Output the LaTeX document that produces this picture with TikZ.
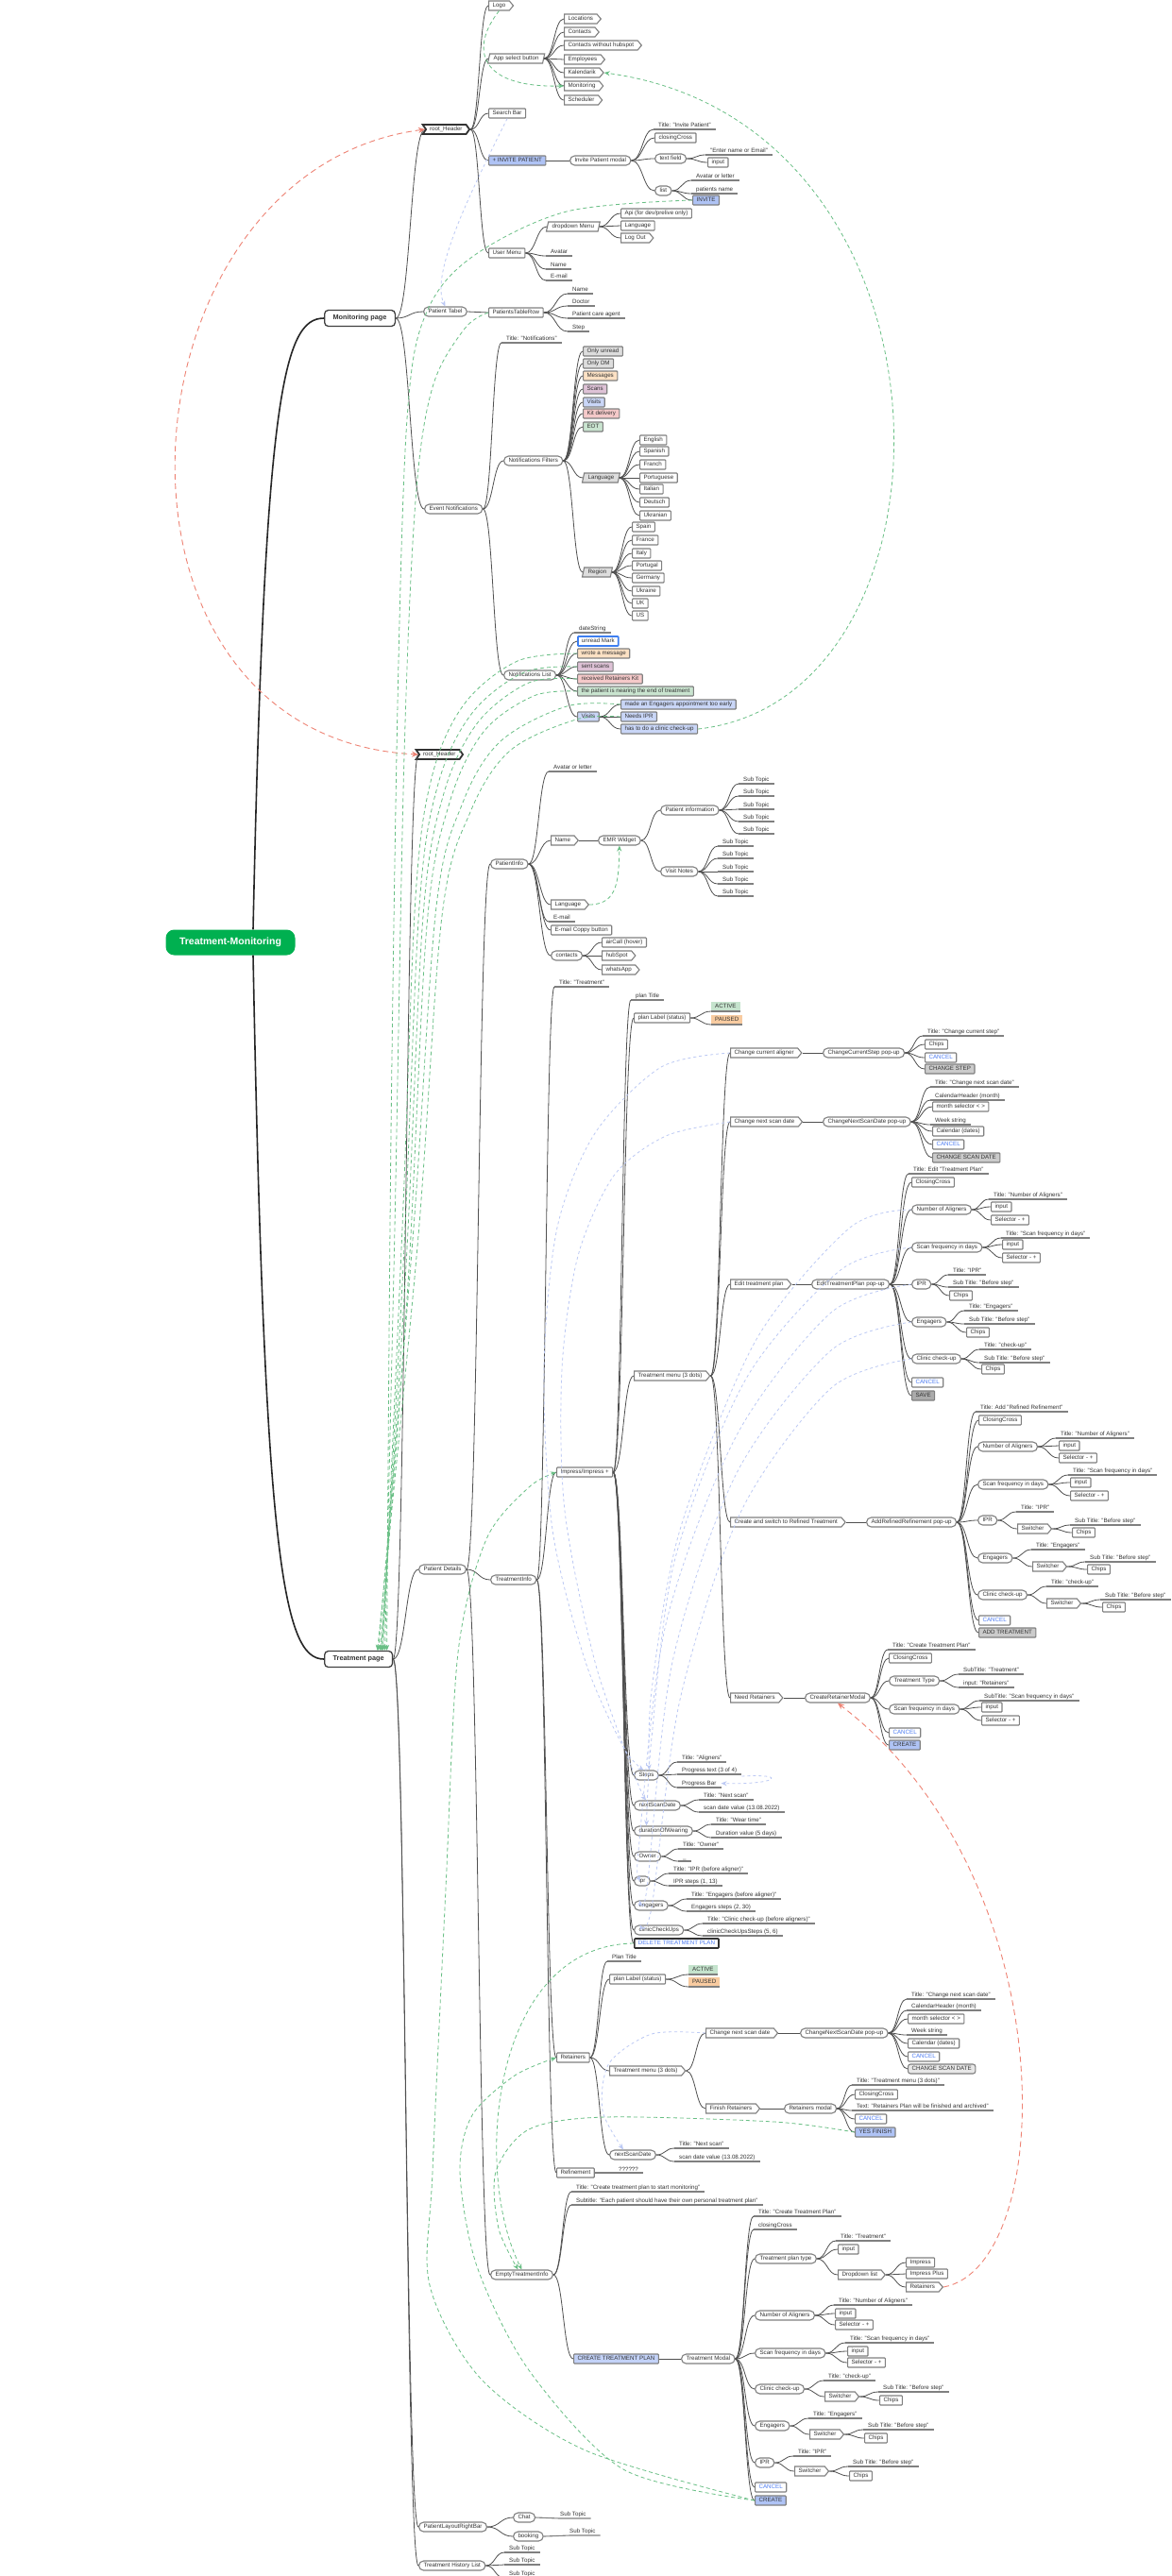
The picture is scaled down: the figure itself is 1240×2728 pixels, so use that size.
\documentclass[tikz,border=0pt]{standalone}
\usepackage{fontspec}
\setmainfont{Liberation Sans}
\usetikzlibrary{shapes.misc,shapes.symbols,shapes.geometric,arrows.meta,calc}
\definecolor{txt}{HTML}{333333}
\definecolor{bdc}{HTML}{808080}
\definecolor{lnc}{HTML}{505050}
\definecolor{cblue}{HTML}{AFC3F5}
\definecolor{clb}{HTML}{C9D6F7}
\definecolor{cgray}{HTML}{DDDDDD}
\definecolor{cpeach}{HTML}{FCE1C4}
\definecolor{cmauve}{HTML}{DEC2D6}
\definecolor{cpink}{HTML}{F5C9C9}
\definecolor{cgreen}{HTML}{C9E4CF}
\definecolor{cbtn}{HTML}{CBCBCB}
\definecolor{csave}{HTML}{ABABAB}
\definecolor{cact}{HTML}{C5E3CD}
\definecolor{cpaus}{HTML}{F8CBA0}
\definecolor{ccan}{HTML}{4C7BF2}
\definecolor{rootg}{HTML}{00B050}
\definecolor{gdc}{HTML}{69BF85}
\definecolor{rdc}{HTML}{EE8374}
\definecolor{bdash}{HTML}{BCC9F4}
\definecolor{umark}{HTML}{3D7EF0}
\newcommand\fs{\fontsize{6.2}{7}\selectfont}
\newcommand\cnx[2]{\coordinate (tmpm) at ($(#1.east)!.5!(#2)$);\draw[ln] (#1.east) .. controls (tmpm |- #1.east) and (tmpm |- #2) .. (#2);}
\newcommand\ulnode[5][]{\node[ul,#1] (#2) at (#3,#4) {#5};\draw[uln] (#2.south west) -- (#2.south east);}
\begin{document}
\begin{tikzpicture}[x=1pt,y=-1pt,
 every node/.style={font=\fs,text=txt},
 bx/.style={anchor=west,draw=bdc,line width=1.1pt,fill=white,inner xsep=4pt,inner ysep=0pt,minimum height=10pt,text height=4.6pt,text depth=1.3pt},
 rb/.style={bx,rectangle,rounded corners=0.8pt},
 pl/.style={bx,rounded rectangle},
 tg/.style={bx,signal,signal to=east,signal pointer angle=100},
 pg/.style={bx,trapezium,trapezium left angle=70,trapezium right angle=110,trapezium stretches=true},
 hdr/.style={bx,signal,signal from=west,signal to=east,signal pointer angle=110,draw=black!80,line width=1.8pt},
 ul/.style={anchor=south west,inner xsep=5pt,inner ysep=1.3pt,text height=4.6pt,text depth=1.3pt},
 fl/.style={ul,inner xsep=4pt,inner ysep=2pt},
 uln/.style={draw=bdc,line width=1.1pt},
 ln/.style={draw=lnc,line width=0.8pt},
 mainln/.style={draw=black!85,line width=1.6pt},
 cancel/.style={text=ccan},
 delb/.style={rb,draw=black!80,line width=1.6pt,text=ccan},
 umk/.style={rb,draw=umark,line width=1.8pt},
 pb/.style={anchor=west,draw=black!75,line width=1.3pt,fill=white,rounded corners=4pt,font=\fontsize{7.3}{8}\selectfont\bfseries,minimum height=17pt,inner xsep=9pt},
 rootn/.style={fill=rootg,text=white,font=\fontsize{10.5}{12}\selectfont\bfseries,rounded corners=9pt,minimum width=137pt,minimum height=27pt},
 gd/.style={draw=gdc,line width=0.8pt,dash pattern=on 4pt off 3pt,-{Stealth[length=6pt,width=5pt]}},
 bdl/.style={draw=bdash,line width=0.8pt,dash pattern=on 3pt off 3pt,-{Stealth[length=6pt,width=5pt]}},
 rd/.style={draw=rdc,line width=0.9pt,dash pattern=on 6pt off 4pt}]
\useasboundingbox (0,0) rectangle (1240,2728);
\fill[white] (0,0) rectangle (1240,2728);
% ---------------- root
\node[rootn] (root) at (244,998) {Treatment-Monitoring};
\node[pb] (mon) at (343,337) {Monitoring page};
\node[pb] (trt) at (343,1757) {Treatment page};
\draw[mainln] ([xshift=24pt]root.north) .. controls (280,420) and (300,337) .. (mon.west);
\draw[mainln] ([xshift=24pt]root.south) .. controls (280,1650) and (300,1757) .. (trt.west);
% ---------------- monitoring: header
\node[hdr] (h1) at (450,137) {root\_Header};
\node[tg] (logo) at (517,6) {Logo};
\node[pg] (appsel) at (517,62) {App select button};
\node[rb] (search) at (517,120) {Search Bar};
\node[rb,fill=cblue] (invp) at (517,170) {+ INVITE PATIENT};
\node[rb] (umenu) at (517,268) {User Menu};
\cnx{mon}{h1.west}
\cnx{h1}{logo.west}\cnx{h1}{appsel.west}\cnx{h1}{search.west}\cnx{h1}{invp.west}\cnx{h1}{umenu.west}
\node[tg] (a1) at (597,20) {Locations};
\node[tg] (a2) at (597,34) {Contacts};
\node[tg] (a3) at (597,48) {Contacts without hubspot};
\node[tg] (a4) at (597,63) {Employees};
\node[tg] (a5) at (597,77) {Kalendarik};
\node[tg] (a6) at (597,91) {Monitoring};
\node[tg] (a7) at (597,106) {Scheduler};
\foreach \i in {1,...,7}{\cnx{appsel}{a\i.west}}
\node[pl] (ipm) at (603,170) {Invite Patient modal};
\cnx{invp}{ipm.west}
\ulnode{ipt}{692}{137}{Title: "Invite Patient"}
\node[rb] (icc) at (693,146) {closingCross};
\node[pl] (itf) at (693,168) {text field};
\node[pl] (ilist) at (693,202) {list};
\cnx{ipm}{ipt.south west}\cnx{ipm}{icc.west}\cnx{ipm}{itf.west}\cnx{ipm}{ilist.west}
\ulnode{ien}{747}{164}{"Enter name or Email"}
\node[rb] (iin) at (749,172) {input};
\cnx{itf}{ien.south west}\cnx{itf}{iin.west}
\ulnode{iav}{732}{191}{Avatar or letter}
\ulnode{ipn}{732}{205}{patients name}
\node[rb,fill=cblue] (iinv) at (733,212) {INVITE};
\cnx{ilist}{iav.south west}\cnx{ilist}{ipn.south west}\cnx{ilist}{iinv.west}
\node[pg] (ddm) at (579,240) {dropdown Menu};
\node[rb] (api) at (657,226) {Api (for dev/prelive only)};
\node[rb] (ulang) at (657,239) {Language};
\node[tg] (ulog) at (657,252) {Log Out};
\ulnode{uav}{578}{271}{Avatar}
\ulnode{unm}{578}{285}{Name}
\ulnode{uem}{578}{297}{E-mail}
\cnx{umenu}{ddm.west}\cnx{umenu}{uav.south west}\cnx{umenu}{unm.south west}\cnx{umenu}{uem.south west}
\cnx{ddm}{api.west}\cnx{ddm}{ulang.west}\cnx{ddm}{ulog.west}
% ---------------- monitoring: patient table
\node[pl] (ptab) at (448,330) {Patient Tabel};
\node[rb] (ptr) at (517,331) {PatientsTableRow};
\cnx{mon}{ptab.west}\cnx{ptab}{ptr.west}
\ulnode{pr1}{601}{311}{Name}
\ulnode{pr2}{601}{324}{Doctor}
\ulnode{pr3}{601}{337}{Patient care agent}
\ulnode{pr4}{601}{351}{Step}
\foreach \i in {1,...,4}{\cnx{ptr}{pr\i.south west}}
% ---------------- monitoring: event notifications
\node[pl] (evn) at (449,539) {Event Notifications};
\cnx{mon}{evn.west}
\ulnode{ent}{531}{363}{Title: "Notifications"}
\node[pl] (nfil) at (533,488) {Notifications Filters};
\node[pl] (nlst) at (533,715) {Notifications List};
\cnx{evn}{ent.south west}\cnx{evn}{nfil.west}\cnx{evn}{nlst.west}
\node[rb,fill=cgray] (f1) at (617,372) {Only unread};
\node[rb,fill=cgray] (f2) at (617,385) {Only DM};
\node[rb,fill=cpeach] (f3) at (617,398) {Messages};
\node[rb,fill=cmauve] (f4) at (617,412) {Scans};
\node[rb,fill=clb] (f5) at (617,426) {Visits};
\node[rb,fill=cpink] (f6) at (617,438) {Kit delivery};
\node[rb,fill=cgreen] (f7) at (617,452) {EOT};
\node[pg,fill=cgray] (f8) at (617,506) {Language};
\node[pg,fill=cgray] (f9) at (617,606) {Region};
\foreach \i in {1,...,9}{\cnx{nfil}{f\i.west}}
\foreach \t/\y [count=\i] in {English/466,Spanish/478,Franch/492,Portuguese/506,Italian/518,Deutsch/532,Ukranian/546}{\node[rb] (l\i) at (677,\y) {\t};\cnx{f8}{l\i.west}}
\foreach \t/\y [count=\i] in {Spain/558,France/572,Italy/586,Portugal/599,Germany/612,Ukraine/626,UK/639,US/652}{\node[rb] (r\i) at (669,\y) {\t};\cnx{f9}{r\i.west}}
\ulnode{nds}{608}{670}{dateString}
\node[umk] (nun) at (611,679) {unread Mark};
\node[rb,fill=cpeach] (wrote) at (611,692) {wrote a message};
\node[rb,fill=cmauve] (sent) at (611,706) {sent scans};
\node[rb,fill=cpink] (recv) at (611,719) {received Retainers Kit};
\node[rb,fill=cgreen] (near) at (611,732) {the patient is nearing the end of treatment};
\node[rb,fill=clb] (nvis) at (611,759) {Visits};
\cnx{nlst}{nds.south west}\cnx{nlst}{nun.west}\cnx{nlst}{wrote.west}\cnx{nlst}{sent.west}\cnx{nlst}{recv.west}\cnx{nlst}{near.west}\cnx{nlst}{nvis.west}
\node[rb,fill=clb] (veng) at (657,746) {made an Engagers appointment too early};
\node[rb,fill=clb] (vipr) at (657,759) {Needs IPR};
\node[rb,fill=clb] (vcli) at (657,772) {has to do a clinic check-up};
\cnx{nvis}{veng.west}\cnx{nvis}{vipr.west}\cnx{nvis}{vcli.west}
% ---------------- treatment page
\node[hdr] (h2) at (443,799) {root\_Header};
\node[pl] (pdet) at (443,1662) {Patient Details};
\node[pl] (plrb) at (443,2676) {PatientLayoutRightBar};
\node[pl] (thl) at (443,2717) {Treatment History List};
\cnx{trt}{h2.west}\cnx{trt}{pdet.west}\cnx{trt}{plrb.west}\cnx{trt}{thl.west}
\node[pl] (pinfo) at (519,915) {PatientInfo};
\node[pl] (tinfo) at (519,1673) {TreatmentInfo};
\node[pl] (empty) at (519,2409) {EmptyTreatmentInfo};
\cnx{pdet}{pinfo.west}\cnx{pdet}{tinfo.west}\cnx{pdet}{empty.west}
% patient info
\ulnode{piav}{581}{817}{Avatar or letter}
\node[tg] (piname) at (583,890) {Name};
\node[pl] (emr) at (633,890) {EMR Widget};
\node[pl] (pinf) at (699,858) {Patient information};
\node[pl] (vnot) at (699,923) {Visit Notes};
\node[tg] (pilang) at (583,958) {Language};
\ulnode{piem}{581}{976}{E-mail}
\node[rb] (picp) at (583,985) {E-mail Coppy button};
\node[pl] (picon) at (583,1012) {contacts};
\cnx{pinfo}{piav.south west}\cnx{pinfo}{piname.west}\cnx{pinfo}{pilang.west}\cnx{pinfo}{piem.south west}\cnx{pinfo}{picp.west}\cnx{pinfo}{picon.west}
\cnx{piname}{emr.west}\cnx{emr}{pinf.west}\cnx{emr}{vnot.west}
\foreach \y [count=\i] in {830,843,857,870,883}{\ulnode{ps\i}{782}{\y}{Sub Topic}\cnx{pinf}{ps\i.south west}}
\foreach \y [count=\i] in {896,909,923,936,949}{\ulnode{vs\i}{760}{\y}{Sub Topic}\cnx{vnot}{vs\i.south west}}
\node[rb] (pac) at (637,998) {airCall (hover)};
\node[tg] (phs) at (637,1012) {hubSpot};
\node[tg] (pwa) at (637,1027) {whatsApp};
\cnx{picon}{pac.west}\cnx{picon}{phs.west}\cnx{picon}{pwa.west}
% treatment info
\ulnode{tit}{587}{1045}{Title: "Treatment"}
\node[rb] (imp) at (589,1559) {Impress/Impress +};
\node[rb] (ret) at (589,2179) {Retainers};
\node[rb] (refn) at (589,2301) {Refinement};
\cnx{tinfo}{tit.south west}\cnx{tinfo}{imp.west}\cnx{tinfo}{ret.west}\cnx{tinfo}{refn.west}
\node[anchor=south west,inner xsep=0pt,inner ysep=1.3pt] (refq) at (655,2301) {??????};
\draw[uln] (refn.east) -- (refq.south west) -- ([xshift=5pt]refq.south east);
% impress
\ulnode{ipt1}{668}{1059}{plan Title}
\node[rb] (ipl) at (671,1078) {plan Label (status)};
\ulnode[fl,fill=cact]{iact}{753}{1071}{ACTIVE}
\ulnode[fl,fill=cpaus]{ipau}{753}{1085}{PAUSED}
\cnx{ipl}{iact.south west}\cnx{ipl}{ipau.south west}
\node[tg] (tmen) at (671,1457) {Treatment menu (3 dots)};
\node[pl] (steps) at (671,1880) {Steps};
\node[pl] (nsd) at (671,1912) {nextScanDate};
\node[pl] (dow) at (671,1939) {durationOfWearing};
\node[pl] (own) at (671,1966) {Owner};
\node[pl] (ipr) at (671,1992) {ipr};
\node[pl] (engg) at (671,2018) {engagers};
\node[pl] (ccu) at (671,2044) {clinicCheckUps};
\node[delb] (del) at (671,2058) {DELETE TREATMENT PLAN};
\foreach \n in {ipt1.south west,ipl.west,tmen.west,steps.west,nsd.west,dow.west,own.west,ipr.west,engg.west,ccu.west,del.west}{\cnx{imp}{\n}}
\ulnode{st1}{717}{1866}{Title: "Aligners"}
\ulnode{st2}{717}{1879}{Progress text (3 of 4)}
\ulnode{st3}{717}{1893}{Progress Bar}
\cnx{steps}{st1.south west}\cnx{steps}{st2.south west}\cnx{steps}{st3.south west}
\ulnode{ns1}{740}{1906}{Title: "Next scan"}
\ulnode{ns2}{740}{1919}{scan date value (13.08.2022)}
\cnx{nsd}{ns1.south west}\cnx{nsd}{ns2.south west}
\ulnode{dw1}{753}{1932}{Title: "Wear time"}
\ulnode{dw2}{753}{1946}{Duration value (5 days)}
\cnx{dow}{dw1.south west}\cnx{dow}{dw2.south west}
\ulnode{ow1}{718}{1958}{Title: "Owner"}
\ulnode{ow2}{718}{1971}{\_}
\cnx{own}{ow1.south west}\cnx{own}{ow2.south west}
\ulnode{ip1}{708}{1984}{Title: "IPR (before aligner)"}
\ulnode{ip2}{708}{1997}{IPR steps (1, 13)}
\cnx{ipr}{ip1.south west}\cnx{ipr}{ip2.south west}
\ulnode{en1}{727}{2011}{Title: "Engagers (before aligner)"}
\ulnode{en2}{727}{2024}{Engagers steps (2, 30)}
\cnx{engg}{en1.south west}\cnx{engg}{en2.south west}
\ulnode{cu1}{744}{2037}{Title: "Clinic check-up (before aligners)"}
\ulnode{cu2}{744}{2050}{clinicCheckUpsSteps (5, 6)}
\cnx{ccu}{cu1.south west}\cnx{ccu}{cu2.south west}
% treatment menu
\node[tg] (cca) at (773,1115) {Change current aligner};
\node[tg] (cns) at (773,1188) {Change next scan date};
\node[tg] (etp) at (773,1360) {Edit treatment plan};
\node[tg] (csr) at (773,1612) {Create and switch to Refined Treatment};
\node[tg] (nret) at (773,1798) {Need Retainers};
\cnx{tmen}{cca.west}\cnx{tmen}{cns.west}\cnx{tmen}{etp.west}\cnx{tmen}{csr.west}\cnx{tmen}{nret.west}
% change current step
\node[pl] (ccs) at (871,1115) {ChangeCurrentStep pop-up};
\cnx{cca}{ccs.west}
\ulnode{cc1}{977}{1097}{Title: "Change current step"}
\node[rb] (cc2) at (979,1106) {Chips};
\node[rb,cancel] (cc3) at (979,1120) {CANCEL};
\node[rb,fill=cbtn] (cc4) at (979,1132) {CHANGE STEP};
\cnx{ccs}{cc1.south west}\cnx{ccs}{cc2.west}\cnx{ccs}{cc3.west}\cnx{ccs}{cc4.west}
% change next scan date
\node[pl] (cnp) at (871,1188) {ChangeNextScanDate pop-up};
\cnx{cns}{cnp.west}
\ulnode{cn1}{985}{1151}{Title: "Change next scan date"}
\ulnode{cn2}{985}{1165}{CalendarHeader (month)}
\node[rb] (cn3) at (987,1172) {month selector < >};
\ulnode{cn4}{985}{1191}{Week string}
\node[rb] (cn5) at (987,1198) {Calendar (dates)};
\node[rb,cancel] (cn6) at (987,1212) {CANCEL};
\node[rb,fill=cbtn] (cn7) at (987,1226) {CHANGE SCAN DATE};
\cnx{cnp}{cn1.south west}\cnx{cnp}{cn2.south west}\cnx{cnp}{cn3.west}\cnx{cnp}{cn4.south west}\cnx{cnp}{cn5.west}\cnx{cnp}{cn6.west}\cnx{cnp}{cn7.west}
% edit treatment plan
\node[pl] (etpp) at (859,1360) {EditTreatmentPlan pop-up};
\cnx{etp}{etpp.west}
\ulnode{e1}{962}{1243}{Title: Edit "Treatment Plan"}
\node[rb] (e2) at (965,1252) {ClosingCross};
\node[pl] (enal) at (965,1281) {Number of Aligners};
\node[pl] (esf) at (965,1321) {Scan frequency in days};
\node[pl] (eipr) at (965,1360) {IPR};
\node[pl] (eeng) at (965,1400) {Engagers};
\node[pl] (ecli) at (965,1439) {Clinic check-up};
\node[rb,cancel] (ecan) at (965,1464) {CANCEL};
\node[rb,fill=csave] (esav) at (965,1478) {SAVE};
\foreach \n in {e1.south west,e2.west,enal.west,esf.west,eipr.west,eeng.west,ecli.west,ecan.west,esav.west}{\cnx{etpp}{\n}}
\ulnode{ena1}{1047}{1270}{Title: "Number of Aligners"}
\node[rb] (ena2) at (1049,1278) {input};
\node[rb] (ena3) at (1049,1292) {Selector - +};
\cnx{enal}{ena1.south west}\cnx{enal}{ena2.west}\cnx{enal}{ena3.west}
\ulnode{esf1}{1060}{1311}{Title: "Scan frequency in days"}
\node[rb] (esf2) at (1061,1318) {input};
\node[rb] (esf3) at (1061,1332) {Selector - +};
\cnx{esf}{esf1.south west}\cnx{esf}{esf2.west}\cnx{esf}{esf3.west}
\ulnode{eip1}{1004}{1350}{Title: "IPR"}
\ulnode{eip2}{1004}{1363}{Sub Title: "Before step"}
\node[rb] (eip3) at (1005,1372) {Chips};
\cnx{eipr}{eip1.south west}\cnx{eipr}{eip2.south west}\cnx{eipr}{eip3.west}
\ulnode{een1}{1021}{1388}{Title: "Engagers"}
\ulnode{een2}{1021}{1402}{Sub Title: "Before step"}
\node[rb] (een3) at (1023,1411) {Chips};
\cnx{eeng}{een1.south west}\cnx{eeng}{een2.south west}\cnx{eeng}{een3.west}
\ulnode{ecl1}{1037}{1429}{Title: "check-up"}
\ulnode{ecl2}{1037}{1443}{Sub Title: "Before step"}
\node[rb] (ecl3) at (1039,1450) {Chips};
\cnx{ecli}{ecl1.south west}\cnx{ecli}{ecl2.south west}\cnx{ecli}{ecl3.west}
% add refined
\node[pl] (arp) at (917,1612) {AddRefinedRefinement pop-up};
\cnx{csr}{arp.west}
\ulnode{a01}{1033}{1495}{Title: Add "Refined Refinement"}
\node[rb] (a02) at (1036,1504) {ClosingCross};
\node[pl] (anal) at (1035,1532) {Number of Aligners};
\node[pl] (asf) at (1035,1572) {Scan frequency in days};
\node[pl] (aipr) at (1035,1610) {IPR};
\node[pl] (aeng) at (1035,1650) {Engagers};
\node[pl] (acli) at (1035,1689) {Clinic check-up};
\node[rb,cancel] (acan) at (1036,1716) {CANCEL};
\node[rb,fill=cbtn] (aadd) at (1036,1729) {ADD TREATMENT};
\foreach \n in {a01.south west,a02.west,anal.west,asf.west,aipr.west,aeng.west,acli.west,acan.west,aadd.west}{\cnx{arp}{\n}}
\ulnode{ana1}{1118}{1523}{Title: "Number of Aligners"}
\node[rb] (ana2) at (1121,1531) {input};
\node[rb] (ana3) at (1121,1544) {Selector - +};
\cnx{anal}{ana1.south west}\cnx{anal}{ana2.west}\cnx{anal}{ana3.west}
\ulnode{asf1}{1131}{1562}{Title: "Scan frequency in days"}
\node[rb] (asf2) at (1133,1570) {input};
\node[rb] (asf3) at (1133,1584) {Selector - +};
\cnx{asf}{asf1.south west}\cnx{asf}{asf2.west}\cnx{asf}{asf3.west}
\ulnode{aip1}{1076}{1601}{Title: "IPR"}
\node[tg] (aipsw) at (1077,1619) {Switcher};
\cnx{aipr}{aip1.south west}\cnx{aipr}{aipsw.west}
\ulnode{aip2}{1133}{1615}{Sub Title: "Before step"}
\node[rb] (aip3) at (1135,1623) {Chips};
\cnx{aipsw}{aip2.south west}\cnx{aipsw}{aip3.west}
\ulnode{aen1}{1092}{1641}{Title: "Engagers"}
\node[tg] (aensw) at (1093,1659) {Switcher};
\cnx{aeng}{aen1.south west}\cnx{aeng}{aensw.west}
\ulnode{aen2}{1149}{1654}{Sub Title: "Before step"}
\node[rb] (aen3) at (1151,1662) {Chips};
\cnx{aensw}{aen2.south west}\cnx{aensw}{aen3.west}
\ulnode{acl1}{1108}{1680}{Title: "check-up"}
\node[tg] (aclsw) at (1108,1698) {Switcher};
\cnx{acli}{acl1.south west}\cnx{acli}{aclsw.west}
\ulnode{acl2}{1165}{1694}{Sub Title: "Before step"}
\node[rb] (acl3) at (1167,1702) {Chips};
\cnx{aclsw}{acl2.south west}\cnx{aclsw}{acl3.west}
% need retainers
\node[pl] (crm) at (852,1798) {CreateRetainerModal};
\cnx{nret}{crm.west}
\ulnode{cr1}{940}{1747}{Title: "Create Treatment Plan"}
\node[rb] (cr2) at (941,1756) {ClosingCross};
\node[pl] (crtt) at (941,1780) {Treatment Type};
\node[pl] (crsf) at (941,1810) {Scan frequency in days};
\node[rb,cancel] (crc) at (941,1835) {CANCEL};
\node[rb,fill=cblue] (crok) at (941,1848) {CREATE};
\foreach \n in {cr1.south west,cr2.west,crtt.west,crsf.west,crc.west,crok.west}{\cnx{crm}{\n}}
\ulnode{ct1}{1015}{1773}{SubTitle: "Treatment"}
\ulnode{ct2}{1015}{1787}{input: "Retainers"}
\cnx{crtt}{ct1.south west}\cnx{crtt}{ct2.south west}
\ulnode{cs1}{1037}{1801}{SubTitle: "Scan frequency in days"}
\node[rb] (cs2) at (1039,1808) {input};
\node[rb] (cs3) at (1039,1822) {Selector - +};
\cnx{crsf}{cs1.south west}\cnx{crsf}{cs2.west}\cnx{crsf}{cs3.west}
% retainers
\ulnode{rt1}{643}{2077}{Plan Title}
\node[rb] (rpl) at (645,2096) {plan Label (status)};
\ulnode[fl,fill=cact]{ract}{729}{2091}{ACTIVE}
\ulnode[fl,fill=cpaus]{rpau}{729}{2104}{PAUSED}
\cnx{rpl}{ract.south west}\cnx{rpl}{rpau.south west}
\node[tg] (rtm) at (645,2193) {Treatment menu (3 dots)};
\node[pl] (rnsd) at (645,2282) {nextScanDate};
\cnx{ret}{rt1.south west}\cnx{ret}{rpl.west}\cnx{ret}{rtm.west}\cnx{ret}{rnsd.west}
\ulnode{rn1}{714}{2275}{Title: "Next scan"}
\ulnode{rn2}{714}{2289}{scan date value (13.08.2022)}
\cnx{rnsd}{rn1.south west}\cnx{rnsd}{rn2.south west}
\node[tg] (rcns) at (747,2153) {Change next scan date};
\node[tg] (rfin) at (747,2233) {Finish Retainers};
\cnx{rtm}{rcns.west}\cnx{rtm}{rfin.west}
\node[pl] (rcnp) at (847,2153) {ChangeNextScanDate pop-up};
\cnx{rcns}{rcnp.west}
\ulnode{rc1}{960}{2117}{Title: "Change next scan date"}
\ulnode{rc2}{960}{2129}{CalendarHeader (month)}
\node[rb] (rc3) at (961,2138) {month selector < >};
\ulnode{rc4}{960}{2155}{Week string}
\node[rb] (rc5) at (961,2164) {Calendar (dates)};
\node[rb,cancel] (rc6) at (961,2178) {CANCEL};
\node[rb,fill=cgray!70,rounded corners=2.5pt] (rc7) at (961,2191) {CHANGE SCAN DATE};
\cnx{rcnp}{rc1.south west}\cnx{rcnp}{rc2.south west}\cnx{rcnp}{rc3.west}\cnx{rcnp}{rc4.south west}\cnx{rcnp}{rc5.west}\cnx{rcnp}{rc6.west}\cnx{rcnp}{rc7.west}
\node[pl] (rmod) at (830,2233) {Retainers modal};
\cnx{rfin}{rmod.west}
\ulnode{rm1}{902}{2208}{Title: "Treatment menu (3 dots)"}
\node[rb] (rm2) at (905,2218) {ClosingCross};
\ulnode{rm3}{902}{2235}{Text: "Retainers Plan will be finished and archived"}
\node[rb,cancel] (rm4) at (905,2244) {CANCEL};
\node[rb,fill=cblue] (rm5) at (905,2258) {YES FINISH};
\cnx{rmod}{rm1.south west}\cnx{rmod}{rm2.west}\cnx{rmod}{rm3.south west}\cnx{rmod}{rm4.west}\cnx{rmod}{rm5.west}
% empty treatment info
\ulnode{et1}{605}{2321}{Title: "Create treatment plan to start monitoring"}
\ulnode{et2}{605}{2335}{Subtitle: "Each patient should have their own personal treatment plan"}
\node[rb,fill=cblue!75] (ctp) at (607,2498) {CREATE TREATMENT PLAN};
\cnx{empty}{et1.south west}\cnx{empty}{et2.south west}\cnx{empty}{ctp.west}
\node[pl] (tmod) at (721,2498) {Treatment Modal};
\cnx{ctp}{tmod.west}
\ulnode{tm1}{798}{2347}{Title: "Create Treatment Plan"}
\ulnode{tm2}{798}{2361}{closingCross}
\node[pl] (tmt) at (799,2392) {Treatment plan type};
\node[pl] (tmn) at (799,2452) {Number of Aligners};
\node[pl] (tms) at (799,2492) {Scan frequency in days};
\node[pl] (tmc) at (799,2530) {Clinic check-up};
\node[pl] (tme) at (799,2569) {Engagers};
\node[pl] (tmi) at (799,2608) {IPR};
\node[rb,cancel] (tmcan) at (799,2634) {CANCEL};
\node[rb,fill=cblue] (tmok) at (799,2648) {CREATE};
\foreach \n in {tm1.south west,tm2.south west,tmt.west,tmn.west,tms.west,tmc.west,tme.west,tmi.west,tmcan.west,tmok.west}{\cnx{tmod}{\n}}
\ulnode{tt1}{885}{2373}{Title: "Treatment"}
\node[rb] (tt2) at (887,2382) {input};
\node[tg] (tdd) at (887,2409) {Dropdown list};
\cnx{tmt}{tt1.south west}\cnx{tmt}{tt2.west}\cnx{tmt}{tdd.west}
\node[rb] (td1) at (959,2396) {Impress};
\node[rb] (td2) at (959,2408) {Impress Plus};
\node[tg] (td3) at (959,2422) {Retainers};
\cnx{tdd}{td1.west}\cnx{tdd}{td2.west}\cnx{tdd}{td3.west}
\ulnode{tn1}{883}{2441}{Title: "Number of Aligners"}
\node[rb] (tn2) at (884,2450) {input};
\node[rb] (tn3) at (884,2462) {Selector - +};
\cnx{tmn}{tn1.south west}\cnx{tmn}{tn2.west}\cnx{tmn}{tn3.west}
\ulnode{ts1}{895}{2481}{Title: "Scan frequency in days"}
\node[rb] (ts2) at (897,2490) {input};
\node[rb] (ts3) at (897,2502) {Selector - +};
\cnx{tms}{ts1.south west}\cnx{tms}{ts2.west}\cnx{tms}{ts3.west}
\ulnode{tc1}{872}{2521}{Title: "check-up"}
\node[tg] (tcsw) at (873,2538) {Switcher};
\cnx{tmc}{tc1.south west}\cnx{tmc}{tcsw.west}
\ulnode{tc2}{930}{2533}{Sub Title: "Before step"}
\node[rb] (tc3) at (931,2542) {Chips};
\cnx{tcsw}{tc2.south west}\cnx{tcsw}{tc3.west}
\ulnode{te1}{856}{2561}{Title: "Engagers"}
\node[tg] (tesw) at (857,2578) {Switcher};
\cnx{tme}{te1.south west}\cnx{tme}{tesw.west}
\ulnode{te2}{914}{2573}{Sub Title: "Before step"}
\node[rb] (te3) at (915,2582) {Chips};
\cnx{tesw}{te2.south west}\cnx{tesw}{te3.west}
\ulnode{ti1}{840}{2601}{Title: "IPR"}
\node[tg] (tisw) at (841,2617) {Switcher};
\cnx{tmi}{ti1.south west}\cnx{tmi}{tisw.west}
\ulnode{ti2}{898}{2612}{Sub Title: "Before step"}
\node[rb] (ti3) at (899,2622) {Chips};
\cnx{tisw}{ti2.south west}\cnx{tisw}{ti3.west}
% right bar / history
\node[pl] (chat) at (543,2666) {Chat};
\node[pl] (book) at (543,2686) {booking};
\cnx{plrb}{chat.west}\cnx{plrb}{book.west}
\node[anchor=south west,inner xsep=0pt,inner ysep=1.3pt] (chs) at (593,2667) {Sub Topic};
\draw[uln] (chat.east) -- (chs.south west) -- ([xshift=5pt]chs.south east);
\node[anchor=south west,inner xsep=0pt,inner ysep=1.3pt] (bks) at (603,2685) {Sub Topic};
\draw[uln] (book.east) -- (bks.south west) -- ([xshift=5pt]bks.south east);
\foreach \y [count=\i] in {2703,2716,2730}{\ulnode{hs\i}{534}{\y}{Sub Topic}\cnx{thl}{hs\i.south west}}
% ---------------- dashed relations
\draw[rd,{Stealth[length=7pt,width=6pt]}-{Stealth[length=7pt,width=6pt]}] (h1.west) .. controls (120,180) and (80,780) .. (h2.west);
\draw[rd,-{Stealth[length=7pt,width=6pt]}] (td3.east) .. controls (1120,2400) and (1130,1990) .. (crm.south);
\draw[gd] (logo.south) .. controls (498,50) and (505,93) .. (a6.west);
\draw[gd] (vcli.east) .. controls (1030,740) and (1030,130) .. (a5.east);
\draw[gd] (pilang.east) .. controls (655,958) and (655,930) .. (emr.south);
\draw[gd] plot[smooth,tension=.55] coordinates {(iinv.west) (600,224) (500,272) (452,330) (432,430) (422,700) (414,1200) ([xshift=30pt]trt.north)};
\draw[gd] plot[smooth,tension=.55] coordinates {(ptr.west) (492,348) (458,410) (440,530) (428,800) (418,1300) ([xshift=28pt]trt.north)};
\draw[gd] plot[smooth,tension=.55] coordinates {(wrote.west) (548,700) (492,745) (458,820) (440,950) (426,1300) ([xshift=26pt]trt.north)};
\draw[gd] plot[smooth,tension=.55] coordinates {(sent.west) (555,712) (500,755) (464,830) (444,960) (428,1320) ([xshift=25pt]trt.north)};
\draw[gd] plot[smooth,tension=.55] coordinates {(recv.west) (560,723) (506,765) (470,840) (448,970) (430,1340) ([xshift=24pt]trt.north)};
\draw[gd] plot[smooth,tension=.55] coordinates {(near.west) (565,737) (512,775) (476,850) (452,980) (432,1360) ([xshift=23pt]trt.north)};
\draw[gd] plot[smooth,tension=.55] coordinates {(veng.west) (600,748) (530,785) (490,850) (462,960) (438,1300) ([xshift=21pt]trt.north)};
\draw[gd] plot[smooth,tension=.55] coordinates {(vipr.west) (610,762) (540,795) (498,860) (468,970) (442,1320) ([xshift=20pt]trt.north)};
\draw[gd] plot[smooth,tension=.5] coordinates {(tmok.west) (620,2595) (510,2520) (455,2420) (458,2300) (472,2000) (485,1750) (515,1630) (560,1575) (imp.west)};
\draw[gd] plot[smooth,tension=.5] coordinates {(tmok.west) (660,2615) (560,2510) (505,2400) (487,2300) (500,2240) (545,2198) (ret.west)};
\draw[gd] (del.west) .. controls (520,2060) and (500,2300) .. (empty.north);
\draw[gd] plot[smooth,tension=.5] coordinates {(rm5.west) (820,2247) (640,2242) (560,2255) (525,2300) (528,2360) ([xshift=-4pt]empty.north)};
\draw[bdl] (search.south) .. controls (500,200) and (455,290) .. (ptab.north);
\draw[bdl] ([yshift=-2pt]st2.south east) .. controls (835,1878) and (825,1890) .. (st3.east);
\draw[bdl] plot[smooth,tension=.5] coordinates {(cca.west) (700,1130) (630,1200) (590,1300) (576,1450) (585,1620) (620,1760) (660,1850) ([xshift=-3pt]steps.north)};
\draw[bdl] plot[smooth,tension=.5] coordinates {(cns.west) (705,1203) (650,1245) (612,1330) (595,1450) (598,1600) (630,1760) (672,1880) ([xshift=-12pt]nsd.north)};
\draw[bdl] plot[smooth,tension=.5] coordinates {(enal.west) (900,1300) (800,1420) (720,1620) (690,1790) ([xshift=3pt]steps.north)};
\draw[bdl] plot[smooth,tension=.5] coordinates {(esf.west) (890,1345) (790,1460) (715,1650) (690,1840) ([xshift=-18pt]dow.north)};
\draw[bdl] plot[smooth,tension=.5] coordinates {(eipr.west) (880,1390) (780,1520) (705,1720) (676,1960) ([xshift=-2pt]ipr.north)};
\draw[bdl] plot[smooth,tension=.5] coordinates {(eeng.west) (880,1430) (780,1560) (712,1760) (685,2000) ([xshift=-12pt]engg.north)};
\draw[bdl] plot[smooth,tension=.5] coordinates {(ecli.west) (880,1470) (785,1600) (720,1800) (690,2020) ([xshift=-20pt]ccu.north)};
\draw[bdl] plot[smooth,tension=.5] coordinates {(rcns.west) (690,2154) (645,2185) (638,2235) ([xshift=-10pt]rnsd.north)};
\end{tikzpicture}
\end{document}
